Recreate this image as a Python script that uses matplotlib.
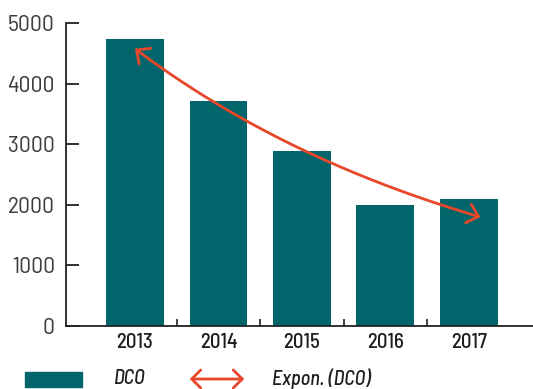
import numpy as np
import matplotlib
matplotlib.use("Agg")
import matplotlib.pyplot as plt
from matplotlib.patches import FancyArrowPatch, Rectangle
from matplotlib.path import Path
from matplotlib.ticker import FixedLocator

years = ["2013", "2014", "2015", "2016", "2017"]
dco = [4730, 3710, 2880, 1990, 2090]
y_ticks = [0, 1000, 2000, 3000, 4000, 5000]

BAR = "#00666B"
TREND = "#E8472A"
FONT = ["Barlow Semi Condensed", "DejaVu Sans"]

fig = plt.figure(figsize=(5.33, 3.89), dpi=100)
W, H = 533, 389
ax = fig.add_axes([66 / W, 1 - 326 / H, (W - 66) / W, (326 - 23) / H])

x = np.arange(len(years))
ax.bar(x, dco, width=0.69, color=BAR, zorder=2)

# exponential trend line fitted on the series, with a short forward forecast
b, a = np.polyfit(x, np.log(dco), 1)
xt = np.linspace(0, 4.14, 80)
yt = np.exp(a + b * xt)
trend = FancyArrowPatch(path=Path(np.column_stack([xt, yt])),
                        arrowstyle="<->,head_length=7.5,head_width=7",
                        color=TREND, lw=2.0, zorder=3,
                        transform=ax.transData)
ax.add_patch(trend)

ax.set_xlim(-0.826, 4.77)
ax.set_ylim(0, 5000)
ax.set_yticks(y_ticks)
ax.set_xticks(x)
ax.set_xticklabels(years)
ax.xaxis.set_minor_locator(FixedLocator([0.5, 1.5, 2.5, 3.5]))

for s in ("top", "right"):
    ax.spines[s].set_visible(False)
for s in ("left", "bottom"):
    ax.spines[s].set_color("#222222")
    ax.spines[s].set_linewidth(1.3)

ax.tick_params(axis="y", direction="in", length=9.5, width=1.3, color="#222222",
               pad=8, labelsize=17, labelcolor="#3d3d3d")
ax.tick_params(axis="x", which="major", length=0, pad=5, labelsize=15,
               labelcolor="#1e1e1e")
ax.tick_params(axis="x", which="minor", direction="in", length=5, width=1.2,
               color="#222222")
for lab in ax.get_yticklabels():
    lab.set_family(FONT)
    lab.set_fontweight("regular")
for lab in ax.get_xticklabels():
    lab.set_family(FONT)
    lab.set_fontweight("medium")

# legend row
fig.add_artist(Rectangle((25 / W, 1 - 387 / H), 57 / W, 15 / H,
                         transform=fig.transFigure, color=BAR))
fig.text(114 / W, 1 - 379 / H, "DCO", family=FONT, style="italic",
         fontweight="medium", fontsize=14.5, color="#1e1e1e",
         va="center", ha="left")
fig.add_artist(FancyArrowPatch((187 / W, 1 - 379 / H), (247 / W, 1 - 379 / H),
                               transform=fig.transFigure,
                               arrowstyle="<->,head_length=6.5,head_width=6.5",
                               color=TREND, lw=2.0))
fig.text(272 / W, 1 - 379 / H, "Expon. (DCO)", family=FONT, style="italic",
         fontweight="medium", fontsize=14.5, color="#1e1e1e",
         va="center", ha="left")

fig.savefig("out.png", dpi=100)
